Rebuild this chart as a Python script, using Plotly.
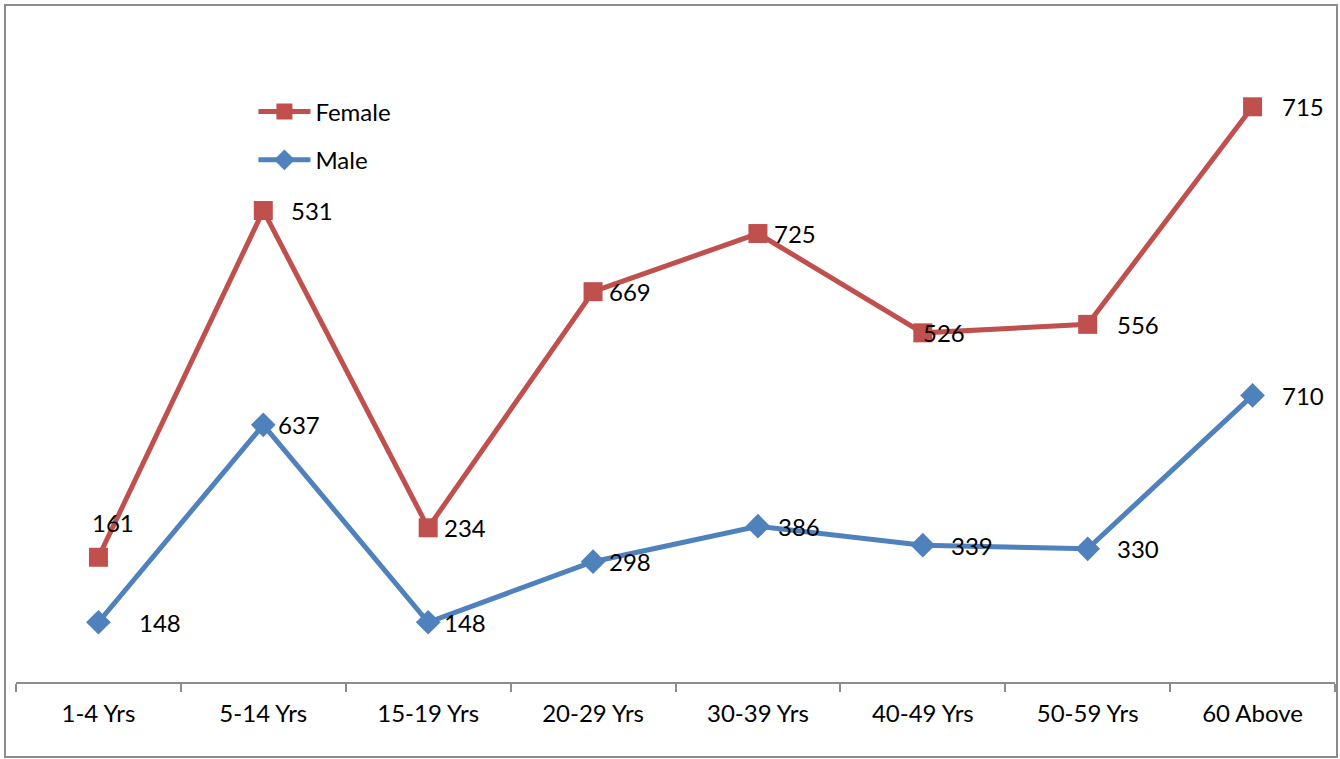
import plotly.graph_objects as go

categories = ["1-4 Yrs", "5-14 Yrs", "15-19 Yrs", "20-29 Yrs", "30-39 Yrs", "40-49 Yrs", "50-59 Yrs", "60 Above"]
male = [148, 637, 148, 298, 386, 339, 330, 710]
female = [161, 531, 234, 669, 725, 526, 556, 715]

# label offsets (pixels) to mimic the original label placement
male_xshift = [39, 13, 14, 14, 18, 26, 27, 27]
female_xshift = [-8, 26, 14, 14, 14, -2, 27, 27]
female_yshift = [35, 0, 0, 0, 0, 0, 0, 0]

MALE_C = "#4F81BD"
FEMALE_C = "#C0504D"
FONT = "Lato, Open Sans, sans-serif"

fig = go.Figure()
fig.add_trace(go.Scatter(
    x=categories, y=male, name="Male", stackgroup="one", fill="none",
    mode="lines+markers",
    line=dict(color=MALE_C, width=5),
    marker=dict(symbol="diamond", size=19, color=MALE_C),
    legendgroup="m", legendrank=2, hoverinfo="skip",
))
fig.add_trace(go.Scatter(
    x=categories, y=female, name="Female", stackgroup="one", fill="none",
    mode="lines+markers",
    line=dict(color=FEMALE_C, width=5),
    marker=dict(symbol="square", size=19, color=FEMALE_C),
    legendgroup="f", legendrank=1, hoverinfo="skip",
))

annotations = []
for i, c in enumerate(categories):
    annotations.append(dict(
        x=c, y=male[i], xref="x", yref="y", text=str(male[i]), showarrow=False,
        xanchor="left", yanchor="middle", xshift=male_xshift[i],
        font=dict(size=24, color="black", family=FONT)))
    top = male[i] + female[i]
    annotations.append(dict(
        x=c, y=top, xref="x", yref="y", text=str(female[i]), showarrow=False,
        xanchor="left", yanchor="middle", xshift=female_xshift[i], yshift=female_yshift[i],
        font=dict(size=24, color="black", family=FONT)))

fig.update_layout(
    width=1340, height=759,
    margin=dict(l=16, r=5, t=20, b=77, autoexpand=False),
    paper_bgcolor="white", plot_bgcolor="white",
    font=dict(family=FONT, size=24, color="black"),
    showlegend=True,
    legend=dict(x=0.18, y=0.895, xanchor="left", yanchor="top", traceorder="grouped",
                tracegroupgap=14, font=dict(size=24), bgcolor="rgba(0,0,0,0)",
                itemwidth=52),
    xaxis=dict(range=[-0.5, 7.5], showline=True, linecolor="#8c8c8c", linewidth=1.5,
               ticks="outside", tickson="boundaries", ticklen=8, tickcolor="#8c8c8c",
               tickwidth=1.5, showgrid=False, zeroline=False, ticklabelstandoff=9,
               tickfont=dict(size=24, color="black"), fixedrange=True),
    yaxis=dict(range=[0, 1640], visible=False, showgrid=False, zeroline=False),
    annotations=annotations,
    shapes=[dict(type="rect", xref="paper", yref="paper",
                 x0=-11/1319, x1=1 + 2/1319, y0=-75/662, y1=1 + 15/662,
                 line=dict(color="#8c8c8c", width=2), fillcolor="rgba(0,0,0,0)")],
)

fig.write_html("out.html", config={"displayModeBar": False},
               post_script="document.body.style.margin='0';document.body.style.overflow='hidden';")
